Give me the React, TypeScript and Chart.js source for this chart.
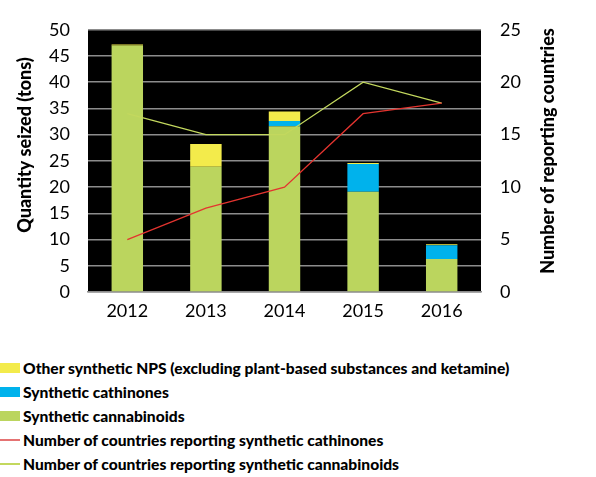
import React, { useEffect, useRef } from "react";
import { Chart, registerables } from "chart.js";

Chart.register(...registerables);

const years = ["2012", "2013", "2014", "2015", "2016"];
const cannabinoidsTons = [47.0, 23.9, 31.6, 19.1, 6.3];
const cathinonesTons = [0.0, 0.0, 1.0, 5.3, 2.6];
const otherNpsTons = [0.2, 4.3, 1.8, 0.2, 0.2];
const countriesCathinones = [5, 8, 10, 17, 18];
const countriesCannabinoids = [17, 15, 15, 20, 18];

const FONT = "Lato, 'Open Sans', sans-serif";

const COLORS = {
  other: "#F3EB4B",
  cathinones: "#00B2EC",
  cannabinoids: "#BBD55E",
  lineCathinones: "#E3342F",
  lineCannabinoids: "#C3D85E",
};

const legendItems = [
  { label: "Other synthetic NPS (excluding plant-based substances and ketamine)", color: COLORS.other, kind: "box" },
  { label: "Synthetic cathinones", color: COLORS.cathinones, kind: "box" },
  { label: "Synthetic cannabinoids", color: COLORS.cannabinoids, kind: "box" },
  { label: "Number of countries reporting synthetic cathinones", color: "#E57373", kind: "line" },
  { label: "Number of countries reporting synthetic cannabinoids", color: COLORS.lineCannabinoids, kind: "line" },
];

// Paints the plot area black, then draws both axis titles reading bottom-to-top.
const plotDecor = {
  id: "plotDecor",
  beforeDraw(chart: any) {
    const { ctx, chartArea } = chart;
    ctx.save();
    ctx.fillStyle = "#000";
    ctx.fillRect(chartArea.left, chartArea.top, chartArea.right - chartArea.left, chartArea.bottom - chartArea.top);
    ctx.restore();
  },
  afterDraw(chart: any) {
    const { ctx } = chart;
    const drawTitle = (text: string, x: number, y: number) => {
      ctx.save();
      ctx.translate(x, y);
      ctx.rotate(-Math.PI / 2);
      ctx.font = `900 18px ${FONT}`;
      ctx.fillStyle = "#000";
      ctx.textAlign = "center";
      ctx.textBaseline = "middle";
      ctx.fillText(text, 0, 0);
      ctx.restore();
    };
    drawTitle("Quantity seized (tons)", 25, 145);
    drawTitle("Number of reporting countries", 548, 151);
  },
};

export default function App() {
  const canvasRef = useRef<HTMLCanvasElement | null>(null);

  useEffect(() => {
    document.body.style.margin = "0";
    const canvas = canvasRef.current;
    if (!canvas) return;
    const tickFont = { family: FONT, size: 18 };
    const chart = new Chart(canvas, {
      type: "bar",
      data: {
        labels: years,
        datasets: [
          {
            type: "line",
            label: "Number of countries reporting synthetic cathinones",
            data: countriesCathinones,
            yAxisID: "y1",
            borderColor: COLORS.lineCathinones,
            borderWidth: 1.3,
            pointRadius: 0,
            tension: 0,
            order: 0,
          },
          {
            type: "line",
            label: "Number of countries reporting synthetic cannabinoids",
            data: countriesCannabinoids,
            yAxisID: "y1",
            borderColor: COLORS.lineCannabinoids,
            borderWidth: 1.3,
            pointRadius: 0,
            tension: 0,
            order: 0,
          },
          {
            label: "Synthetic cannabinoids",
            data: cannabinoidsTons,
            backgroundColor: COLORS.cannabinoids,
            stack: "tons",
            yAxisID: "y",
            order: 1,
          },
          {
            label: "Synthetic cathinones",
            data: cathinonesTons,
            backgroundColor: COLORS.cathinones,
            stack: "tons",
            yAxisID: "y",
            order: 1,
          },
          {
            label: "Other synthetic NPS (excluding plant-based substances and ketamine)",
            data: otherNpsTons,
            backgroundColor: COLORS.other,
            stack: "tons",
            yAxisID: "y",
            order: 1,
          },
        ] as any,
      },
      options: {
        animation: false,
        responsive: false,
        layout: { padding: { top: 18, left: 0, right: 0, bottom: 0 } },
        datasets: {
          bar: { categoryPercentage: 1, barPercentage: 0.4 },
        },
        plugins: {
          legend: { display: false },
          tooltip: { enabled: false },
        },
        scales: {
          x: {
            stacked: true,
            grid: { display: false, drawTicks: false },
            border: { display: true, color: "#8c8c8c", width: 1.5 },
            ticks: { font: tickFont, color: "#000", padding: 8 },
            afterFit: (s: any) => {
              s.height = 48;
            },
          },
          y: {
            stacked: true,
            position: "left",
            min: 0,
            max: 50,
            grid: { color: "#8c8c8c", lineWidth: 1.5, drawTicks: false },
            border: { display: false },
            ticks: { stepSize: 5, font: tickFont, color: "#000", padding: 18 },
            afterFit: (s: any) => {
              s.width = 88;
            },
          },
          y1: {
            position: "right",
            min: 0,
            max: 25,
            grid: { display: false, drawTicks: false },
            border: { display: false },
            ticks: { stepSize: 5, font: tickFont, color: "#000", padding: 19 },
            afterFit: (s: any) => {
              s.width = 115;
            },
          },
        },
      },
      plugins: [plotDecor],
    });
    return () => chart.destroy();
  }, []);

  return (
    <div style={{ width: 596, fontFamily: FONT }}>
      <canvas ref={canvasRef} width={596} height={340} style={{ display: "block" }} />
      <div style={{ marginTop: 16 }}>
        {legendItems.map((item) => (
          <div
            key={item.label}
            style={{ display: "flex", alignItems: "center", height: 24, fontWeight: 900, fontSize: 15.6, color: "#000" }}
          >
            <span
              style={{
                display: "inline-block",
                width: 20,
                height: item.kind === "box" ? 10 : 2,
                background: item.color,
                marginRight: 3,
                flex: "none",
              }}
            />
            <span style={{ whiteSpace: "nowrap" }}>{item.label}</span>
          </div>
        ))}
      </div>
    </div>
  );
}
